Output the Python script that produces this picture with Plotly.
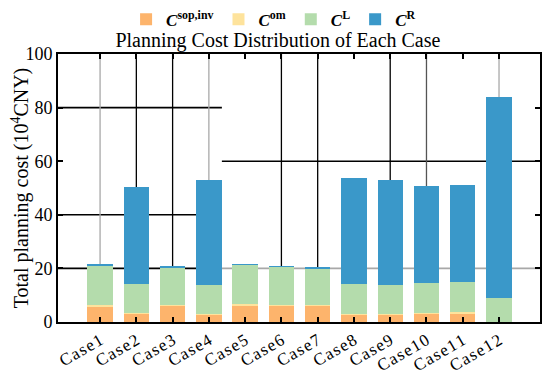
import plotly.graph_objects as go

cases = ["Case1", "Case2", "Case3", "Case4", "Case5", "Case6",
         "Case7", "Case8", "Case9", "Case10", "Case11", "Case12"]
c_sop_inv = [5.9, 3.2, 6.0, 2.8, 6.3, 6.0, 6.2, 2.8, 2.8, 3.1, 3.3, 0.0]
c_om = [0.3, 0.3, 0.3, 0.3, 0.3, 0.3, 0.3, 0.3, 0.3, 0.3, 0.3, 0.1]
c_L = [14.9, 10.8, 14.0, 10.8, 14.8, 14.3, 13.6, 11.2, 10.7, 11.0, 11.4, 8.7]
c_R = [0.4, 36.2, 0.3, 39.2, 0.2, 0.2, 0.1, 39.3, 39.2, 36.4, 36.2, 75.0]

series = [
    ("<b><i>C</i><sup>sop,inv</sup></b>", c_sop_inv, "#FDB46C"),
    ("<b><i>C</i><sup>om</sup></b>", c_om, "#FEE39C"),
    ("<b><i>C</i><sup>L</sup></b>", c_L, "#B4DCAC"),
    ("<b><i>C</i><sup>R</sup></b>", c_R, "#3A98C9"),
]

FONT = "Liberation Serif, Times New Roman, serif"
spaced_labels = ["\u200a".join(c) for c in cases]

fig = go.Figure()
for name, vals, col in series:
    fig.add_trace(go.Bar(x=cases, y=vals, name=name, marker_color=col,
                         marker_line_width=0, width=0.7))

# irregular reference grid lines (styling)
shapes = []
split = 0.34
for yv, x0, x1, col in [(80, 0, split, "black"), (60, split, 1.0, "black"),
                        (40, 0, split, "black"), (20, 0, split, "black"),
                        (20, split, 1.0, "#A8A8A8")]:
    shapes.append(dict(type="line", xref="paper", yref="y", x0=x0, x1=x1,
                       y0=yv, y1=yv, line=dict(color=col, width=1.6),
                       layer="below"))
vcols = {0: "#A8A8A8", 1: "black", 2: "black", 3: "#A8A8A8", 5: "black",
         6: "black", 8: "black", 9: "#555555", 11: "#A8A8A8"}
for i, col in vcols.items():
    shapes.append(dict(type="line", xref="x", yref="y", x0=i, x1=i,
                       y0=0, y1=100, line=dict(color=col, width=1.3),
                       layer="below"))

fig.update_layout(
    barmode="stack",
    width=542, height=366,
    margin=dict(l=50, r=10, t=46, b=52, autoexpand=False),
    paper_bgcolor="white", plot_bgcolor="white",
    font=dict(family=FONT, size=16, color="black"),
    title=dict(text="Planning Cost Distribution of Each Case",
               x=0.498, xanchor="center", y=0.912, yanchor="middle",
               font=dict(family=FONT, size=20)),
    legend=dict(orientation="h", xref="container", yref="container",
                x=0.49, xanchor="center", y=0.968, yanchor="middle",
                font=dict(family=FONT, size=17),
                traceorder="normal", itemwidth=30,
                bgcolor="rgba(0,0,0,0)"),
    shapes=shapes,
)
fig.update_xaxes(range=[-1.16, 12.13], tickangle=-30,
                 tickvals=cases, ticktext=spaced_labels, automargin=False,
                 showline=True, linecolor="black", linewidth=2, mirror="ticks",
                 ticks="inside", ticklen=5, tickwidth=2, tickcolor="black",
                 showgrid=False, tickfont=dict(family=FONT, size=17))
fig.update_yaxes(range=[0, 100], tickvals=[0, 20, 40, 60, 80, 100],
                 automargin=False,
                 showline=True, linecolor="black", linewidth=2, mirror="ticks",
                 ticks="inside", ticklen=5, tickwidth=2, tickcolor="black",
                 showgrid=False, zeroline=False,
                 tickfont=dict(family=FONT, size=18),
                 title=dict(text="Total planning cost (10<sup>4</sup>CNY)",
                            font=dict(family=FONT, size=20), standoff=2))

fig.write_html("out.html")
